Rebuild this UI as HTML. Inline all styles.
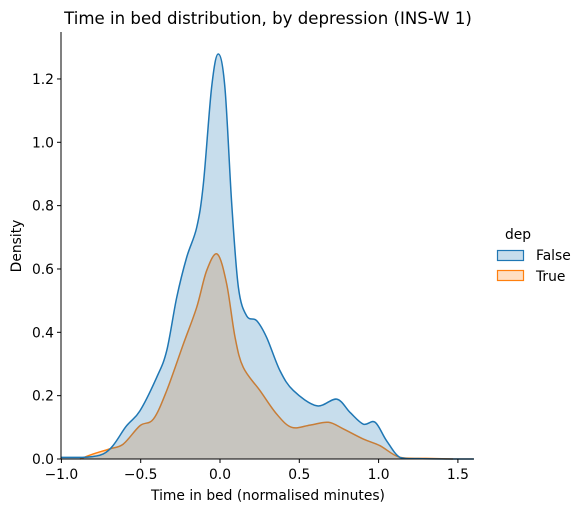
<!DOCTYPE html>
<html><head><meta charset="utf-8"><style>
body{margin:0;background:#fff;}
svg text{font-family:"DejaVu Sans","Liberation Sans",sans-serif;fill:#000;}
</style></head><body>
<svg id="chart" width="582" height="512" xmlns="http://www.w3.org/2000/svg">
<text x="268" y="24" font-size="16.6" text-anchor="middle">Time in bed distribution, by depression (INS-W 1)</text>
<g id="plot"></g>
<g id="axes"></g>
<text x="268" y="500" font-size="13.85" text-anchor="middle">Time in bed (normalised minutes)</text>
<text transform="translate(21,246) rotate(-90)" font-size="13.85" text-anchor="middle">Density</text>
<g>
<text x="518" y="239" font-size="13.85" text-anchor="middle">dep</text>
<g><rect x="497.5" y="250.5" width="26" height="10" fill="rgba(31,119,180,0.25)" stroke="#1f77b4" stroke-width="1.2"/><text x="536" y="260" font-size="13.85">False</text></g>
<g><rect x="497.5" y="270.5" width="26" height="10" fill="rgba(255,127,14,0.25)" stroke="#ff7f0e" stroke-width="1.2"/><text x="536" y="281" font-size="13.85">True</text></g>
</g>
</svg>
<script>
const xTicks=[-1.0,-0.5,0.0,0.5,1.0,1.5];
const yTicks=[0.0,0.2,0.4,0.6,0.8,1.0,1.2];
const falseX=[-1.0,-0.736,-0.589,-0.505,-0.399,-0.336,-0.273,-0.21,-0.147,-0.105,-0.053,-0.011,0.031,0.074,0.116,0.168,0.231,0.294,0.378,0.463,0.61,0.736,0.82,0.904,0.978,1.05,1.135,1.25,1.47,1.6];
const falseY=[0.005,0.016,0.105,0.152,0.258,0.342,0.51,0.637,0.731,0.868,1.173,1.279,1.173,0.805,0.542,0.452,0.437,0.384,0.279,0.216,0.168,0.189,0.147,0.11,0.116,0.058,0.005,0.001,0.0,0.0];
const trueX=[-0.883,-0.799,-0.694,-0.61,-0.505,-0.42,-0.336,-0.231,-0.147,-0.084,-0.017,0.042,0.095,0.147,0.252,0.357,0.452,0.568,0.683,0.778,0.904,1.009,1.135,1.3,1.47];
const trueY=[0.0,0.016,0.032,0.047,0.105,0.126,0.216,0.363,0.479,0.595,0.647,0.553,0.384,0.289,0.216,0.142,0.1,0.107,0.116,0.095,0.063,0.042,0.005,0.002,0.0];
const NS="http://www.w3.org/2000/svg";
const L=61,R=474,T=32,B=459;
const sx=v=>220+v*158.6;
const sy=v=>B-v*316.7;
function smooth(xs,ys){
  const p=xs.map((x,i)=>[sx(x),sy(ys[i])]);
  let d="M"+p[0][0]+","+p[0][1];
  for(let i=0;i<p.length-1;i++){
    const p0=p[Math.max(i-1,0)],p1=p[i],p2=p[i+1],p3=p[Math.min(i+2,p.length-1)];
    let c1y=p1[1]+(p2[1]-p0[1])/6,c2y=p2[1]-(p3[1]-p1[1])/6;
    c1y=Math.min(c1y,B);c2y=Math.min(c2y,B);
    d+=" C"+(p1[0]+(p2[0]-p0[0])/6)+","+c1y+" "+(p2[0]-(p3[0]-p1[0])/6)+","+c2y+" "+p2[0]+","+p2[1];
  }
  return {d,first:p[0][0],last:p[p.length-1][0]};
}
const plot=document.getElementById('plot');
function series(xs,ys,col,fill,name){
  const s=smooth(xs,ys);
  const a=document.createElementNS(NS,'path');
  a.setAttribute('d',s.d+" L"+s.last+","+B+" L"+s.first+","+B+" Z");
  a.setAttribute('fill',fill);
  
  
  plot.appendChild(a);
  const l=document.createElementNS(NS,'path');
  l.setAttribute('d',s.d);l.setAttribute('fill','none');l.setAttribute('stroke',col);l.setAttribute('stroke-width','1.5');
  
  
  plot.appendChild(l);
}
series(trueX,trueY,'#ff7f0e','rgba(255,127,14,0.25)','true-density');
series(falseX,falseY,'#1f77b4','rgba(31,119,180,0.25)','false-density');
const ax=document.getElementById('axes');
function ln(x1,y1,x2,y2){const e=document.createElementNS(NS,'line');e.setAttribute('x1',x1);e.setAttribute('y1',y1);e.setAttribute('x2',x2);e.setAttribute('y2',y2);e.setAttribute('stroke','#000');e.setAttribute('stroke-width','1');ax.appendChild(e);return e;}
const la=ln(L,T,L,B+0.5);


const lb=ln(L-0.5,B,R,B);


function txt(x,y,s,anc){const t=document.createElementNS(NS,'text');t.setAttribute('x',x);t.setAttribute('y',y);t.setAttribute('font-size','13.85');t.setAttribute('text-anchor',anc);t.textContent=s;ax.appendChild(t);return t;}
const fmt=v=>(v<0?"\u2212":"")+Math.abs(v).toFixed(1);
xTicks.forEach(v=>{const x=sx(v);ln(x,B,x,B+4);const t=txt(x,B+20,fmt(v),'middle');

});
yTicks.forEach(v=>{const y=sy(v);ln(L-4,y,L,y);const t=txt(L-7,y+5,fmt(v),'end');

});
</script>
</body></html>
